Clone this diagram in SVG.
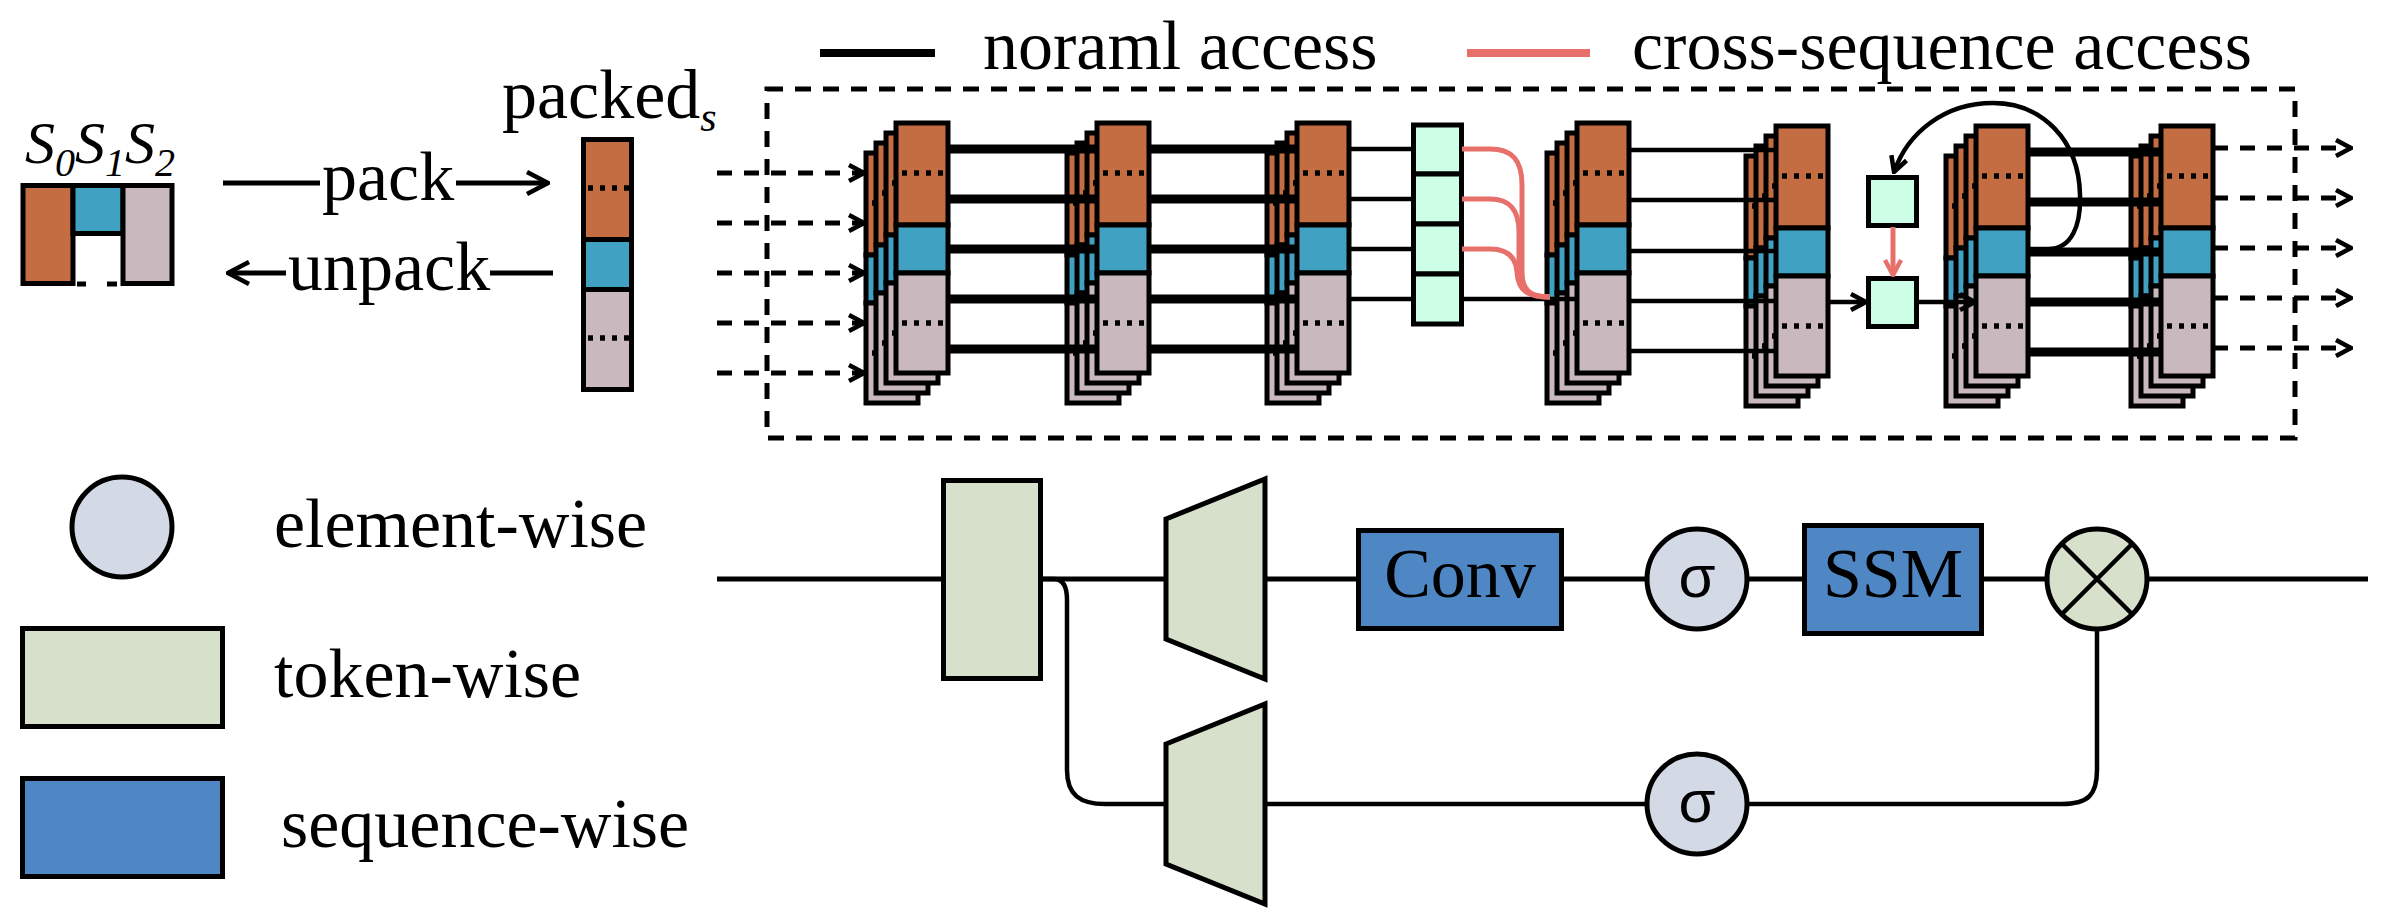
<svg xmlns="http://www.w3.org/2000/svg" width="2396" height="916" viewBox="0 0 2396 916">
<style>
.t{font-family:"Liberation Serif","Times New Roman",serif;font-size:70px;fill:#000}
.ti{font-family:"Liberation Serif","Times New Roman",serif;font-style:italic;fill:#000}
.sg{font-family:"Liberation Sans",Arial,sans-serif;font-size:60px;fill:#000}
.bd{stroke:#000;stroke-width:5}
.o{fill:#C46C42}.b{fill:#41A1C2}.g{fill:#C9B8BD}.mint{fill:#CCFFE6}
.tok{fill:#D6E0CA}.seq{fill:#4F86C4}.ele{fill:#D4D9E6}
.thick{stroke:#000;stroke-width:9;fill:none}
.thin{stroke:#000;stroke-width:4.5;fill:none}
.dash{stroke:#000;stroke-width:5;fill:none;stroke-dasharray:15 12}
.red{stroke:#E8706A;stroke-width:5;fill:none}
.main{stroke:#000;stroke-width:5;fill:none}
.dots{stroke:#000;stroke-width:5.5;stroke-dasharray:5 7;fill:none}
</style>
<defs>
<marker id="ah" viewBox="0 0 20 20" refX="18" refY="10" markerWidth="20" markerHeight="20" markerUnits="userSpaceOnUse" orient="auto"><path d="M3,2 L18,10 L3,18" fill="none" stroke="#000" stroke-width="4.5"/></marker>
<marker id="ahL" viewBox="0 0 26 26" refX="24" refY="13" markerWidth="26" markerHeight="26" markerUnits="userSpaceOnUse" orient="auto"><path d="M3,2 L24,13 L3,24" fill="none" stroke="#000" stroke-width="4.5"/></marker>
<marker id="ahR" viewBox="0 0 20 20" refX="18" refY="10" markerWidth="20" markerHeight="20" markerUnits="userSpaceOnUse" orient="auto"><path d="M3,2 L18,10 L3,18" fill="none" stroke="#E8706A" stroke-width="4.5"/></marker>
<g id="layer">
<rect x="0" y="0" width="52" height="102" class="o bd"/>
<rect x="0" y="102" width="52" height="48" class="b bd"/>
<rect x="0" y="150" width="52" height="100" class="g bd"/>
<path d="M6,50 H50 M6,200 H50" class="dots"/>
</g>
<g id="stack">
<use href="#layer" x="-30" y="30"/>
<use href="#layer" x="-20" y="20"/>
<use href="#layer" x="-10" y="10"/>
<use href="#layer"/>
</g>
</defs>
<rect width="2396" height="916" fill="#fff"/>

<!-- top legend -->
<g id="legend-normal">
<line x1="820" y1="53" x2="935" y2="53" stroke="#000" stroke-width="8"/>
<text x="983" y="69" class="t">noraml access</text>
</g>
<g id="legend-cross">
<line x1="1467" y1="53" x2="1590" y2="53" stroke="#E8706A" stroke-width="8"/>
<text x="1632" y="69" class="t">cross-sequence access</text>
</g>

<!-- unpacked sequences -->
<g id="sequences">
<text x="25" y="163" class="ti" font-size="60">S<tspan font-size="40" dy="13">0</tspan><tspan dy="-13">S</tspan><tspan font-size="40" dy="13">1</tspan><tspan dy="-13">S</tspan><tspan font-size="40" dy="13">2</tspan></text>
<rect x="23" y="185.5" width="50" height="98" class="o bd"/>
<rect x="73" y="185.5" width="50" height="48" class="b bd"/>
<rect x="123" y="185.5" width="49" height="98" class="g bd"/>
<path d="M77,284 H86 M107,284 H117" stroke="#000" stroke-width="5"/>
</g>

<!-- packed sequence -->
<g id="packed">
<text x="502" y="118" class="t">packed<tspan class="ti" font-size="42" dy="13">s</tspan></text>
<rect x="583.5" y="139.5" width="48" height="100" class="o bd"/>
<rect x="583.5" y="239.5" width="48" height="50" class="b bd"/>
<rect x="583.5" y="289.5" width="48" height="100" class="g bd"/>
<path d="M588,188 H630 M588,338 H630" class="dots"/>
</g>

<!-- dashed frame -->
<rect id="frame" x="767" y="89" width="1528" height="349" fill="none" stroke="#000" stroke-width="5" stroke-dasharray="16 12"/>

<!-- stacks -->
<g id="stack1"><use href="#stack" x="896" y="123"/></g>
<g id="stack2"><use href="#stack" x="1097" y="123"/></g>
<g id="stack3"><use href="#stack" x="1297" y="123"/></g>
<g id="stack4"><use href="#stack" x="1577" y="123"/></g>
<g id="stack5"><use href="#stack" x="1776" y="126"/></g>
<g id="stack6"><use href="#stack" x="1976" y="126"/></g>
<g id="stack7"><use href="#stack" x="2161" y="126"/></g>

<!-- mixing column -->
<g id="mix-column">
<rect x="1413.5" y="125" width="48" height="49" class="mint bd"/>
<rect x="1413.5" y="174" width="48" height="50" class="mint bd"/>
<rect x="1413.5" y="224" width="48" height="50" class="mint bd"/>
<rect x="1413.5" y="274" width="48" height="50" class="mint bd"/>
</g>
<g id="box-a"><rect x="1868.5" y="177.5" width="48" height="48" class="mint bd"/></g>
<g id="box-b"><rect x="1868.5" y="278.5" width="48" height="48" class="mint bd"/></g>

<!-- connectors -->
<g id="connectors">
<path d="M223,183 H320 M456,183 H548" class="main" marker-end="url(#ahL)"/>
<path d="M553,273 H490" class="main"/>
<path d="M286,273 H228" class="main" marker-end="url(#ahL)"/>

<path d="M717,173 H864" class="dash" marker-end="url(#ah)"/>
<path d="M717,223 H864" class="dash" marker-end="url(#ah)"/>
<path d="M717,273 H864" class="dash" marker-end="url(#ah)"/>
<path d="M717,323 H864" class="dash" marker-end="url(#ah)"/>
<path d="M717,373 H864" class="dash" marker-end="url(#ah)"/>

<path d="M949,149 H1097 M949,199 H1097 M949,249 H1097 M949,299 H1097 M949,349 H1097" class="thick"/>
<path d="M1149,149 H1297 M1149,199 H1297 M1149,249 H1297 M1149,299 H1297 M1149,349 H1297" class="thick"/>
<path d="M1349,149 H1413 M1349,199 H1413 M1349,249 H1413 M1349,299 H1413" class="thin"/>

<path d="M1462,299 H1577" class="thin"/>
<path d="M1462,149 H1490 C1512,149 1522,160 1522,185 V272 C1522,290 1530,297 1550,297" class="red"/>
<path d="M1462,199 H1490 C1510,199 1519,210 1519,232 V275 C1519,290 1528,297 1550,297" class="red"/>
<path d="M1462,249 H1490 C1508,249 1516,258 1517,272 C1518,290 1527,297 1550,297" class="red"/>

<path d="M1629,150 H1776 M1629,200 H1776 M1629,251 H1776 M1629,301 H1776 M1629,351 H1776" class="thin"/>
<path d="M1828,302 H1866" class="thin" marker-end="url(#ah)"/>
<path d="M1893,227 V275" class="red" marker-end="url(#ahR)"/>
<path d="M1918,302 H1975" class="thin" marker-end="url(#ah)"/>
<path d="M2028,152 H2161 M2028,202 H2161 M2028,252 H2161 M2028,302 H2161 M2028,352 H2161" class="thick"/>
<path d="M2030,249 H2048 C2072,249 2081,225 2080,195 C2079,140 2042,103 1993,103 C1945,103 1908,132 1894,172" stroke="#000" stroke-width="4.5" fill="none" marker-end="url(#ah)"/>

<path d="M2213,148 H2351" class="dash" marker-end="url(#ah)"/>
<path d="M2213,198 H2351" class="dash" marker-end="url(#ah)"/>
<path d="M2213,248 H2351" class="dash" marker-end="url(#ah)"/>
<path d="M2213,298 H2351" class="dash" marker-end="url(#ah)"/>
<path d="M2213,348 H2351" class="dash" marker-end="url(#ah)"/>

<path d="M717,579 H941 M1043,579 H1166 M1265,579 H1356 M1564,579 H1646 M1748,579 H1802 M1984,579 H2046 M2149,579 H2368" class="main"/>
<path d="M1043,579 H1054 C1064,579 1067,588 1067,600 V770 C1067,795 1080,804 1105,804 H1166" class="thin"/>
<path d="M1265,804 H1646" class="thin"/>
<path d="M1748,804 H2062 C2088,804 2097,795 2097,770 V631" class="thin"/>
</g>

<text x="322" y="200" class="t">pack</text>
<text x="288" y="290" class="t">unpack</text>

<!-- bottom pipeline -->
<g id="linear-in"><rect x="943.5" y="480.5" width="97" height="198" class="tok bd"/></g>
<g id="proj-top"><polygon points="1166,519 1265,479 1265,679 1166,639" class="tok bd"/></g>
<g id="proj-bottom"><polygon points="1166,744 1265,704 1265,904 1166,864" class="tok bd"/></g>
<g id="conv"><rect x="1358.5" y="530.5" width="203" height="98" class="seq bd"/><text x="1460" y="597" class="t" text-anchor="middle">Conv</text></g>
<g id="sigma1"><circle cx="1697" cy="579" r="50" class="ele bd"/><text x="1697" y="597" class="sg" text-anchor="middle">σ</text></g>
<g id="ssm"><rect x="1804.5" y="525.5" width="177" height="108" class="seq bd"/><text x="1893" y="597" class="t" text-anchor="middle">SSM</text></g>
<g id="mult"><circle cx="2097" cy="579" r="50" class="tok bd"/><path d="M2062,544 L2132,614 M2132,544 L2062,614" stroke="#000" stroke-width="4.5"/></g>
<g id="sigma2"><circle cx="1697" cy="804" r="50" class="ele bd"/><text x="1697" y="822" class="sg" text-anchor="middle">σ</text></g>

<!-- bottom legend -->
<g id="legend-element"><circle cx="122" cy="527" r="50" class="ele bd"/><text x="274" y="547" class="t">element-wise</text></g>
<g id="legend-token"><rect x="22.5" y="628.5" width="200" height="98" class="tok bd"/><text x="274" y="697" class="t">token-wise</text></g>
<g id="legend-sequence"><rect x="22.5" y="778.5" width="200" height="98" class="seq bd"/><text x="281" y="847" class="t">sequence-wise</text></g>
</svg>
